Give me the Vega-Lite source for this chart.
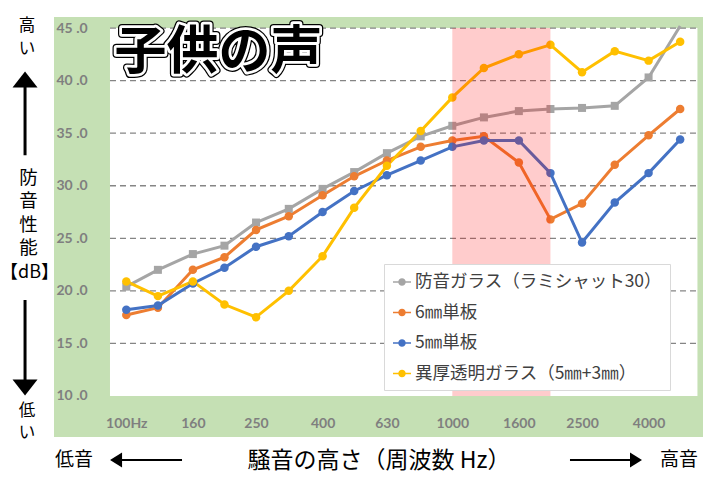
{
  "$schema": "https://vega.github.io/schema/vega-lite/v6.json",
  "width": 649,
  "height": 420,
  "autosize": {"type": "none"},
  "padding": {"left": 54, "top": 17, "right": 4, "bottom": 40},
  "background": "#ffffff",
  "config": {
    "view": {"fill": "#c5e0b4", "stroke": null},
    "axis": {"ticks": false, "tickSize": 0, "domain": false, "grid": false}
  },
  "datasets": {
    "main": [
      {"hz": 100, "series": "防音ガラス（ラミシャット30）", "db": 20.4},
      {"hz": 125, "series": "防音ガラス（ラミシャット30）", "db": 22.0},
      {"hz": 160, "series": "防音ガラス（ラミシャット30）", "db": 23.5},
      {"hz": 200, "series": "防音ガラス（ラミシャット30）", "db": 24.3},
      {"hz": 250, "series": "防音ガラス（ラミシャット30）", "db": 26.5},
      {"hz": 315, "series": "防音ガラス（ラミシャット30）", "db": 27.8},
      {"hz": 400, "series": "防音ガラス（ラミシャット30）", "db": 29.7},
      {"hz": 500, "series": "防音ガラス（ラミシャット30）", "db": 31.3},
      {"hz": 630, "series": "防音ガラス（ラミシャット30）", "db": 33.1},
      {"hz": 800, "series": "防音ガラス（ラミシャット30）", "db": 34.7},
      {"hz": 1000, "series": "防音ガラス（ラミシャット30）", "db": 35.7},
      {"hz": 1250, "series": "防音ガラス（ラミシャット30）", "db": 36.5},
      {"hz": 1600, "series": "防音ガラス（ラミシャット30）", "db": 37.1},
      {"hz": 2000, "series": "防音ガラス（ラミシャット30）", "db": 37.3},
      {"hz": 2500, "series": "防音ガラス（ラミシャット30）", "db": 37.4},
      {"hz": 3150, "series": "防音ガラス（ラミシャット30）", "db": 37.6},
      {"hz": 4000, "series": "防音ガラス（ラミシャット30）", "db": 40.3},
      {"hz": 5000, "series": "防音ガラス（ラミシャット30）", "db": 45.2},
      {"hz": 100, "series": "6㎜単板", "db": 17.7},
      {"hz": 125, "series": "6㎜単板", "db": 18.4},
      {"hz": 160, "series": "6㎜単板", "db": 22.0},
      {"hz": 200, "series": "6㎜単板", "db": 23.2},
      {"hz": 250, "series": "6㎜単板", "db": 25.8},
      {"hz": 315, "series": "6㎜単板", "db": 27.1},
      {"hz": 400, "series": "6㎜単板", "db": 29.1},
      {"hz": 500, "series": "6㎜単板", "db": 30.9},
      {"hz": 630, "series": "6㎜単板", "db": 32.4},
      {"hz": 800, "series": "6㎜単板", "db": 33.7},
      {"hz": 1000, "series": "6㎜単板", "db": 34.3},
      {"hz": 1250, "series": "6㎜単板", "db": 34.7},
      {"hz": 1600, "series": "6㎜単板", "db": 32.2},
      {"hz": 2000, "series": "6㎜単板", "db": 26.8},
      {"hz": 2500, "series": "6㎜単板", "db": 28.3},
      {"hz": 3150, "series": "6㎜単板", "db": 32.0},
      {"hz": 4000, "series": "6㎜単板", "db": 34.8},
      {"hz": 5000, "series": "6㎜単板", "db": 37.3},
      {"hz": 100, "series": "5㎜単板", "db": 18.2},
      {"hz": 125, "series": "5㎜単板", "db": 18.6},
      {"hz": 160, "series": "5㎜単板", "db": 20.7},
      {"hz": 200, "series": "5㎜単板", "db": 22.2},
      {"hz": 250, "series": "5㎜単板", "db": 24.2},
      {"hz": 315, "series": "5㎜単板", "db": 25.2},
      {"hz": 400, "series": "5㎜単板", "db": 27.5},
      {"hz": 500, "series": "5㎜単板", "db": 29.5},
      {"hz": 630, "series": "5㎜単板", "db": 31.0},
      {"hz": 800, "series": "5㎜単板", "db": 32.4},
      {"hz": 1000, "series": "5㎜単板", "db": 33.7},
      {"hz": 1250, "series": "5㎜単板", "db": 34.3},
      {"hz": 1600, "series": "5㎜単板", "db": 34.3},
      {"hz": 2000, "series": "5㎜単板", "db": 31.2},
      {"hz": 2500, "series": "5㎜単板", "db": 24.6},
      {"hz": 3150, "series": "5㎜単板", "db": 28.4},
      {"hz": 4000, "series": "5㎜単板", "db": 31.2},
      {"hz": 5000, "series": "5㎜単板", "db": 34.4},
      {"hz": 100, "series": "異厚透明ガラス（5㎜+3㎜）", "db": 20.9},
      {"hz": 125, "series": "異厚透明ガラス（5㎜+3㎜）", "db": 19.5},
      {"hz": 160, "series": "異厚透明ガラス（5㎜+3㎜）", "db": 20.9},
      {"hz": 200, "series": "異厚透明ガラス（5㎜+3㎜）", "db": 18.7},
      {"hz": 250, "series": "異厚透明ガラス（5㎜+3㎜）", "db": 17.5},
      {"hz": 315, "series": "異厚透明ガラス（5㎜+3㎜）", "db": 20.0},
      {"hz": 400, "series": "異厚透明ガラス（5㎜+3㎜）", "db": 23.3},
      {"hz": 500, "series": "異厚透明ガラス（5㎜+3㎜）", "db": 27.9},
      {"hz": 630, "series": "異厚透明ガラス（5㎜+3㎜）", "db": 31.9},
      {"hz": 800, "series": "異厚透明ガラス（5㎜+3㎜）", "db": 35.2},
      {"hz": 1000, "series": "異厚透明ガラス（5㎜+3㎜）", "db": 38.4},
      {"hz": 1250, "series": "異厚透明ガラス（5㎜+3㎜）", "db": 41.2},
      {"hz": 1600, "series": "異厚透明ガラス（5㎜+3㎜）", "db": 42.5},
      {"hz": 2000, "series": "異厚透明ガラス（5㎜+3㎜）", "db": 43.4},
      {"hz": 2500, "series": "異厚透明ガラス（5㎜+3㎜）", "db": 40.8},
      {"hz": 3150, "series": "異厚透明ガラス（5㎜+3㎜）", "db": 42.8},
      {"hz": 4000, "series": "異厚透明ガラス（5㎜+3㎜）", "db": 41.9},
      {"hz": 5000, "series": "異厚透明ガラス（5㎜+3㎜）", "db": 43.7}
    ],
    "grid": [{"g": 15}, {"g": 20}, {"g": 25}, {"g": 30}, {"g": 35}, {"g": 40}, {"g": 45}],
    "one": [{}]
  },
  "layer": [
    {
      "data": {"name": "one"},
      "mark": {"type": "rect", "fill": "#ffffff"},
      "encoding": {
        "x": {"datum": 89.1, "type": "quantitative"},
        "x2": {"datum": 5649},
        "y": {"datum": 10, "type": "quantitative"},
        "y2": {"datum": 45}
      }
    },
    {
      "data": {"name": "grid"},
      "mark": {"type": "rule", "stroke": "#858585", "strokeWidth": 1.3, "strokeDash": [6, 4]},
      "encoding": {
        "x": {"datum": 89.1, "type": "quantitative"},
        "x2": {"datum": 5649},
        "y": {"field": "g", "type": "quantitative"}
      }
    },
    {
      "data": {"name": "main"},
      "mark": {"type": "line", "strokeWidth": 3},
      "encoding": {
        "x": {
          "field": "hz", "type": "quantitative",
          "scale": {"type": "log", "domain": [60, 5875], "nice": false},
          "axis": {
            "values": [100, 160, 250, 400, 630, 1000, 1600, 2500, 4000],
            "labelExpr": "datum.value == 100 ? '100Hz' : '' + datum.value",
            "labelPadding": -14, "labelBaseline": "middle", "labelFlush": false, "labelOverlap": false,
            "labelFont": "Lato", "labelFontWeight": "bold", "labelFontSize": 14, "labelColor": "#7f7f7f",
            "title": "騒音の高さ（周波数 Hz）", "titleY": 23, "titleBaseline": "middle",
            "titleFont": "Noto Sans CJK JP", "titleFontSize": 23, "titleFontWeight": "normal", "titleColor": "#000000"
          }
        },
        "y": {
          "field": "db", "type": "quantitative",
          "scale": {"domain": [6.1, 46.05], "nice": false, "zero": false},
          "axis": {
            "values": [10, 15, 20, 25, 30, 35, 40, 45],
            "labelExpr": "datum.value + ' .0'",
            "labelAlign": "left", "labelPadding": -2, "labelOverlap": false,
            "labelFont": "Lato", "labelFontWeight": "bold", "labelFontSize": 14, "labelColor": "#7f7f7f",
            "title": ["防", "音", "性", "能"], "titleAngle": 0, "titleX": -26, "titleY": 151,
            "titleAlign": "center", "titleBaseline": "top", "titleLineHeight": 23.5,
            "titleFont": "Noto Sans CJK JP", "titleFontSize": 18.5, "titleFontWeight": "normal", "titleColor": "#000000"
          }
        },
        "color": {
          "field": "series", "type": "nominal",
          "scale": {
            "domain": ["防音ガラス（ラミシャット30）", "6㎜単板", "5㎜単板", "異厚透明ガラス（5㎜+3㎜）"],
            "range": ["#a5a5a5", "#ed7d31", "#4472c4", "#ffc000"]
          },
          "legend": {
            "title": null, "orient": "none", "legendX": 330, "legendY": 247,
            "fillColor": "#ffffff", "strokeColor": "#d9d9d9", "padding": 8,
            "labelFont": "Noto Sans CJK JP", "labelFontSize": 17.5, "labelColor": "#404040", "labelLimit": 400,
            "symbolType": "M-1,0H1M-0.33,0A0.33,0.33 0 1,0 0.33,0A0.33,0.33 0 1,0 -0.33,0Z",
            "symbolSize": 324, "symbolStrokeWidth": 1.5, "rowPadding": 11.5, "labelOffset": 3,
            "encode": {"symbols": {"update": {"fill": {"scale": "color", "field": "value"}, "stroke": {"scale": "color", "field": "value"}, "opacity": {"value": 1}, "shape": {"value": "M-1,0H1M-0.33,0A0.33,0.33 0 1,0 0.33,0A0.33,0.33 0 1,0 -0.33,0Z"}, "size": {"value": 324}, "strokeWidth": {"value": 1.5}}}}
          }
        }
      }
    },
    {
      "data": {"name": "main"},
      "transform": [{"filter": "datum.db <= 45 && datum.series == '防音ガラス（ラミシャット30）'"}],
      "mark": {"type": "point", "shape": "square", "filled": true, "size": 64, "opacity": 1},
      "encoding": {
        "x": {"field": "hz", "type": "quantitative"},
        "y": {"field": "db", "type": "quantitative"},
        "color": {"field": "series", "type": "nominal", "legend": null}
      }
    },
    {
      "data": {"name": "main"},
      "transform": [{"filter": "datum.series != '防音ガラス（ラミシャット30）'"}],
      "mark": {"type": "point", "shape": "circle", "filled": true, "size": 72, "opacity": 1},
      "encoding": {
        "x": {"field": "hz", "type": "quantitative"},
        "y": {"field": "db", "type": "quantitative"},
        "color": {"field": "series", "type": "nominal", "legend": null}
      }
    },
    {
      "data": {"name": "one"},
      "mark": {"type": "rect", "fill": "#ff0000", "fillOpacity": 0.2},
      "encoding": {
        "x": {"datum": 1000, "type": "quantitative"},
        "x2": {"datum": 2000},
        "y": {"datum": 10, "type": "quantitative"},
        "y2": {"datum": 45}
      }
    },
    {
      "data": {"name": "one"},
      "mark": {"type": "text", "text": "子供の声", "font": "Noto Sans CJK JP", "fontWeight": "bold", "fontSize": 52, "align": "left", "baseline": "middle", "fill": "#000000", "stroke": "#000000", "strokeWidth": 8, "strokeJoin": "round"},
      "encoding": {
        "x": {"datum": 92, "type": "quantitative"},
        "y": {"datum": 42.6, "type": "quantitative"}
      }
    },
    {
      "data": {"name": "one"},
      "mark": {"type": "text", "text": "子供の声", "font": "Noto Sans CJK JP", "fontWeight": "bold", "fontSize": 52, "align": "left", "baseline": "middle", "fill": "#000000", "stroke": "#ffffff", "strokeWidth": 5.5, "strokeJoin": "round"},
      "encoding": {
        "x": {"datum": 92, "type": "quantitative"},
        "y": {"datum": 42.6, "type": "quantitative"}
      }
    },
    {
      "data": {"name": "one"},
      "mark": {"type": "text", "text": "子供の声", "font": "Noto Sans CJK JP", "fontWeight": "bold", "fontSize": 52, "align": "left", "baseline": "middle", "fill": "#000000"},
      "encoding": {
        "x": {"datum": 92, "type": "quantitative"},
        "y": {"datum": 42.6, "type": "quantitative"}
      }
    },
    {
      "data": {"name": "one"},
      "mark": {"type": "text", "text": "【dB】", "font": "Noto Sans CJK JP", "fontSize": 18, "align": "center", "baseline": "middle", "fill": "#000000"},
      "encoding": {
        "x": {"datum": 50.5, "type": "quantitative"},
        "y": {"datum": 21.7, "type": "quantitative"}
      }
    },
    {
      "data": {"name": "one"},
      "mark": {"type": "text", "text": "高", "font": "Noto Sans CJK JP", "fontSize": 16.5, "align": "center", "baseline": "middle", "fill": "#000000"},
      "encoding": {
        "x": {"datum": 49.6, "type": "quantitative"},
        "y": {"datum": 45.15, "type": "quantitative"}
      }
    },
    {
      "data": {"name": "one"},
      "mark": {"type": "text", "text": "い", "font": "Noto Sans CJK JP", "fontSize": 16.5, "align": "center", "baseline": "middle", "fill": "#000000"},
      "encoding": {
        "x": {"datum": 49.6, "type": "quantitative"},
        "y": {"datum": 43.0, "type": "quantitative"}
      }
    },
    {
      "data": {"name": "one"},
      "mark": {"type": "text", "text": "低", "font": "Noto Sans CJK JP", "fontSize": 16.5, "align": "center", "baseline": "middle", "fill": "#000000"},
      "encoding": {
        "x": {"datum": 49.6, "type": "quantitative"},
        "y": {"datum": 8.6, "type": "quantitative"}
      }
    },
    {
      "data": {"name": "one"},
      "mark": {"type": "text", "text": "い", "font": "Noto Sans CJK JP", "fontSize": 16.5, "align": "center", "baseline": "middle", "fill": "#000000"},
      "encoding": {
        "x": {"datum": 49.6, "type": "quantitative"},
        "y": {"datum": 6.45, "type": "quantitative"}
      }
    },
    {
      "data": {"name": "one"},
      "mark": {"type": "rule", "stroke": "#000000", "strokeWidth": 3},
      "encoding": {
        "x": {"datum": 48.9, "type": "quantitative"},
        "y": {"datum": 39.6, "type": "quantitative"},
        "y2": {"datum": 32.9}
      }
    },
    {
      "data": {"name": "one"},
      "mark": {"type": "rule", "stroke": "#000000", "strokeWidth": 3},
      "encoding": {
        "x": {"datum": 48.9, "type": "quantitative"},
        "y": {"datum": 19.13, "type": "quantitative"},
        "y2": {"datum": 11.5}
      }
    },
    {
      "data": {"name": "one"},
      "mark": {"type": "point", "shape": "M0,-0.64L1,0.64L-1,0.64Z", "filled": true, "size": 625, "color": "#000000", "opacity": 1},
      "encoding": {
        "x": {"datum": 48.9, "type": "quantitative"},
        "y": {"datum": 40.1, "type": "quantitative"}
      }
    },
    {
      "data": {"name": "one"},
      "mark": {"type": "point", "shape": "M0,0.64L1,-0.64L-1,-0.64Z", "filled": true, "size": 625, "color": "#000000", "opacity": 1},
      "encoding": {
        "x": {"datum": 48.9, "type": "quantitative"},
        "y": {"datum": 10.8, "type": "quantitative"}
      }
    },
    {
      "data": {"name": "one"},
      "mark": {"type": "text", "text": "低音", "font": "Noto Sans CJK JP", "fontSize": 19, "align": "center", "baseline": "middle", "fill": "#000000"},
      "encoding": {
        "x": {"datum": 69.1, "type": "quantitative"},
        "y": {"datum": 3.91, "type": "quantitative"}
      }
    },
    {
      "data": {"name": "one"},
      "mark": {"type": "text", "text": "高音", "font": "Noto Sans CJK JP", "fontSize": 19, "align": "center", "baseline": "middle", "fill": "#000000"},
      "encoding": {
        "x": {"datum": 4960, "type": "quantitative"},
        "y": {"datum": 3.91, "type": "quantitative"}
      }
    },
    {
      "data": {"name": "one"},
      "mark": {"type": "rule", "stroke": "#000000", "strokeWidth": 2},
      "encoding": {
        "x": {"datum": 96.3, "type": "quantitative"},
        "x2": {"datum": 148.2},
        "y": {"datum": 3.91, "type": "quantitative"}
      }
    },
    {
      "data": {"name": "one"},
      "mark": {"type": "rule", "stroke": "#000000", "strokeWidth": 2},
      "encoding": {
        "x": {"datum": 2296, "type": "quantitative"},
        "x2": {"datum": 3533},
        "y": {"datum": 3.91, "type": "quantitative"}
      }
    },
    {
      "data": {"name": "one"},
      "mark": {"type": "point", "shape": "M-1,0L1,-1.25L1,1.25Z", "filled": true, "size": 144, "color": "#000000", "opacity": 1},
      "encoding": {
        "x": {"datum": 93.0, "type": "quantitative"},
        "y": {"datum": 3.91, "type": "quantitative"}
      }
    },
    {
      "data": {"name": "one"},
      "mark": {"type": "point", "shape": "M1,0L-1,-1.25L-1,1.25Z", "filled": true, "size": 144, "color": "#000000", "opacity": 1},
      "encoding": {
        "x": {"datum": 3660, "type": "quantitative"},
        "y": {"datum": 3.91, "type": "quantitative"}
      }
    }
  ]
}
